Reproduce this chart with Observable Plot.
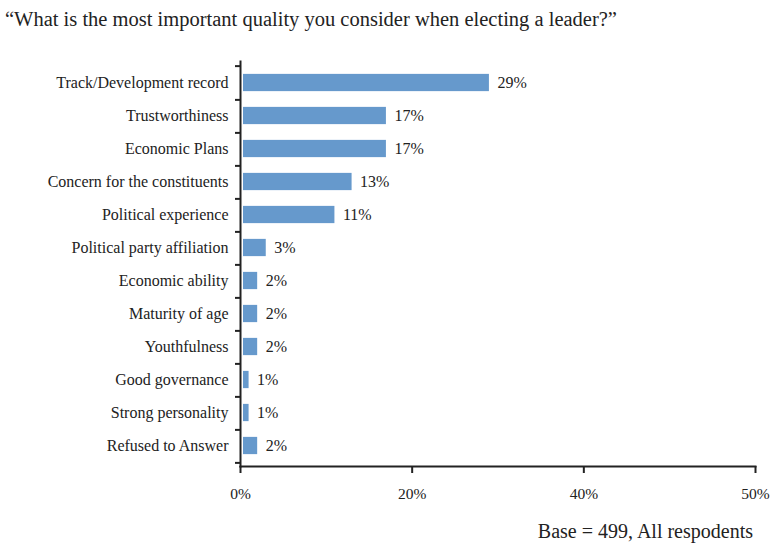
<!DOCTYPE html>
<html>
<head>
<meta charset="utf-8">
<script src="https://cdn.jsdelivr.net/npm/d3@7"></script>
<script src="https://cdn.jsdelivr.net/npm/@observablehq/plot@0.6"></script>
<style>
  body { margin: 0; background: #fff; font-family: "Liberation Serif", serif; color: #222; }
  #wrap { width: 770px; }
  #title { height: 40px; line-height: 38px; font-size: 20.5px; padding-left: 5px; white-space: nowrap; }
  #chart svg { display: block; }
  #caption { height: 30px; line-height: 32px; font-size: 20px; text-align: right; padding-right: 17px; }
</style>
</head>
<body>
<div id="wrap">
  <div id="title">“What is the most important quality you consider when electing a leader?”</div>
  <div id="chart"></div>
  <div id="caption">Base = 499, All respodents</div>
</div>
<script>
const categories = [
  "Track/Development record",
  "Trustworthiness",
  "Economic Plans",
  "Concern for the constituents",
  "Political experience",
  "Political party affiliation",
  "Economic ability",
  "Maturity of age",
  "Youthfulness",
  "Good governance",
  "Strong personality",
  "Refused to Answer"
];
const values = [29, 17, 17, 13, 11, 3, 2, 2, 2, 1, 1, 2];
const xTickValues = [0, 20, 40, 60];
const xTickLabels = ["0%", "20%", "40%", "50%"];

const data = categories.map((c, i) => ({category: c, value: values[i]}));

const FONT = "'Liberation Serif', serif";
const width = 770, height = 475;
const marginTop = 21, marginBottom = 49, marginLeft = 240, marginRight = 15;
const step = (height - marginTop - marginBottom) / categories.length;
const barH = 18;
const inset = (step - barH) / 2;

const chart = Plot.plot({
  width, height, marginTop, marginBottom, marginLeft, marginRight,
  style: {fontFamily: FONT, color: "#222", background: "#fff"},
  x: {domain: [0, 60], axis: null},
  y: {domain: categories, padding: 0, axis: null},
  marks: [
    Plot.barX(data, {x: "value", y: "category", fill: "#6699cc", insetTop: inset, insetBottom: inset, insetLeft: 3}),
    Plot.text(data, {x: "value", y: "category", text: d => d.value + "%", textAnchor: "start", dx: 8, fontSize: 16, fontFamily: FONT, fill: "#222"}),
    Plot.axisY({tickSize: 0, tickPadding: 12, fontSize: 16, fontFamily: FONT, label: null}),
    Plot.axisY({tickSize: 5, tickFormat: () => "", dy: step / 2, label: null, strokeWidth: 2}),
    Plot.axisY([categories[0]], {tickSize: 5, tickFormat: () => "", dy: -step / 2, label: null, strokeWidth: 2}),
    Plot.frame({anchor: "left", stroke: "#222", strokeWidth: 2}),
    Plot.frame({anchor: "bottom", stroke: "#222", strokeWidth: 2}),
    Plot.axisX({ticks: xTickValues, tickFormat: (d, i) => xTickLabels[i], tickSize: 7, tickPadding: 14, fontSize: 15.5, fontFamily: FONT, label: null, strokeWidth: 2})
  ]
});
document.getElementById("chart").appendChild(chart);
</script>
</body>
</html>
